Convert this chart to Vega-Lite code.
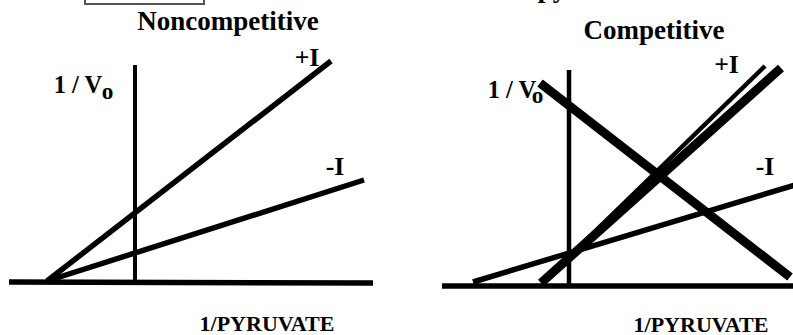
{
  "$schema": "https://vega.github.io/schema/vega-lite/v6.json",
  "padding": 0,
  "spacing": 0,
  "background": "white",
  "config": {"view": {"stroke": null}, "concat": {"spacing": 0}},
  "datasets": {
    "leftLines": [
      {"line": "axisX", "x": -1.26, "y": 0.0},
      {"line": "axisX", "x": 2.38, "y": -0.01},
      {"line": "axisY", "x": 0, "y": 2.17},
      {"line": "axisY", "x": 0, "y": -0.01},
      {"line": "plusI", "x": -0.88, "y": 0.01},
      {"line": "plusI", "x": 1.96, "y": 2.21},
      {"line": "minusI", "x": -0.88, "y": 0.01},
      {"line": "minusI", "x": 2.29, "y": 1.02}
    ],
    "leftText": [
      {"label": "Noncompetitive", "kind": "title", "x": 0.93, "y": 2.52},
      {"label": "+I", "kind": "series", "x": 1.72, "y": 2.16},
      {"label": "-I", "kind": "series", "x": 2.0, "y": 1.07},
      {"label": "1 / V", "kind": "axis", "x": -0.57, "y": 1.89},
      {"label": "o", "kind": "sub", "x": -0.275, "y": 1.83},
      {"label": "1/PYRUVATE", "kind": "xlab", "x": 1.32, "y": -0.49}
    ],
    "leftBox": [
      {"x": -0.5, "x2": 0.69, "y": 2.78, "y2": 2.95}
    ],
    "rightLines": [
      {"line": "axisX", "x": -1.27, "y": 0.0},
      {"line": "axisX", "x": 2.26, "y": 0.0},
      {"line": "axisY", "x": 0, "y": 2.16},
      {"line": "axisY", "x": 0, "y": -0.02},
      {"line": "cross", "x": -0.29, "y": 2.03},
      {"line": "cross", "x": 2.21, "y": 0.09},
      {"line": "plusIthick", "x": -0.28, "y": 0.03},
      {"line": "plusIthick", "x": 2.12, "y": 2.18},
      {"line": "plusIthin", "x": -0.26, "y": 0.04},
      {"line": "plusIthin", "x": 1.96, "y": 2.2},
      {"line": "minusI", "x": -0.96, "y": 0.04},
      {"line": "minusI", "x": 2.26, "y": 1.01}
    ],
    "rightText": [
      {"label": "py", "kind": "title", "x": -0.17, "y": 2.89},
      {"label": "Competitive", "kind": "title", "x": 0.85, "y": 2.47},
      {"label": "+I", "kind": "series", "x": 1.575, "y": 2.13},
      {"label": "-I", "kind": "series", "x": 1.96, "y": 1.11},
      {"label": "1 / V", "kind": "axis", "x": -0.57, "y": 1.88},
      {"label": "o", "kind": "sub", "x": -0.315, "y": 1.83},
      {"label": "1/PYRUVATE", "kind": "xlab", "x": 1.32, "y": -0.455}
    ]
  },
  "hconcat": [
    {
      "width": 396,
      "height": 335,
      "encoding": {
        "x": {"field": "x", "type": "quantitative", "scale": {"domain": [-1.35, 2.61], "nice": false, "zero": false}, "axis": null},
        "y": {"field": "y", "type": "quantitative", "scale": {"domain": [-0.53, 2.82], "nice": false, "zero": false}, "axis": null}
      },
      "layer": [
        {
          "data": {"name": "leftBox"},
          "mark": {"type": "rect", "filled": false, "color": "#555555", "strokeWidth": 2, "clip": true},
          "encoding": {"x2": {"field": "x2"}, "y2": {"field": "y2"}}
        },
        {
          "data": {"name": "leftLines"},
          "transform": [{"filter": {"field": "line", "oneOf": ["axisY"]}}],
          "mark": {"type": "line", "color": "black", "strokeCap": "butt", "strokeWidth": 4, "clip": true},
          "encoding": {"detail": {"field": "line", "type": "nominal"}}
        },
        {
          "data": {"name": "leftLines"},
          "transform": [{"filter": {"field": "line", "oneOf": ["axisX", "plusI", "minusI"]}}],
          "mark": {"type": "line", "color": "black", "strokeCap": "butt", "strokeWidth": 5.5, "clip": true},
          "encoding": {"detail": {"field": "line", "type": "nominal"}}
        },
        {
          "data": {"name": "leftText"},
          "mark": {"type": "text", "font": "Liberation Serif", "fontWeight": "bold", "align": "center", "baseline": "alphabetic", "color": "black", "clip": true},
          "encoding": {
            "text": {"field": "label"},
            "size": {"field": "kind", "type": "ordinal", "scale": {"domain": ["title", "series", "axis", "sub", "xlab"], "range": [27, 22, 26, 22, 20]}, "legend": null}
          }
        }
      ]
    },
    {
      "width": 397,
      "height": 335,
      "encoding": {
        "x": {"field": "x", "type": "quantitative", "scale": {"domain": [-1.73, 2.24], "nice": false, "zero": false}, "axis": null},
        "y": {"field": "y", "type": "quantitative", "scale": {"domain": [-0.49, 2.86], "nice": false, "zero": false}, "axis": null}
      },
      "layer": [
        {
          "data": {"name": "rightLines"},
          "transform": [{"filter": {"field": "line", "oneOf": ["axisY", "plusIthin"]}}],
          "mark": {"type": "line", "color": "black", "strokeCap": "butt", "strokeWidth": 4.5, "clip": true},
          "encoding": {"detail": {"field": "line", "type": "nominal"}}
        },
        {
          "data": {"name": "rightLines"},
          "transform": [{"filter": {"field": "line", "oneOf": ["axisX", "minusI"]}}],
          "mark": {"type": "line", "color": "black", "strokeCap": "butt", "strokeWidth": 5.5, "clip": true},
          "encoding": {"detail": {"field": "line", "type": "nominal"}}
        },
        {
          "data": {"name": "rightLines"},
          "transform": [{"filter": {"field": "line", "oneOf": ["cross", "plusIthick"]}}],
          "mark": {"type": "line", "color": "black", "strokeCap": "butt", "strokeWidth": 9, "clip": true},
          "encoding": {"detail": {"field": "line", "type": "nominal"}}
        },
        {
          "data": {"name": "rightText"},
          "mark": {"type": "text", "font": "Liberation Serif", "fontWeight": "bold", "align": "center", "baseline": "alphabetic", "color": "black", "clip": true},
          "encoding": {
            "text": {"field": "label"},
            "size": {"field": "kind", "type": "ordinal", "scale": {"domain": ["title", "series", "axis", "sub", "xlab"], "range": [27, 22, 26, 22, 20]}, "legend": null}
          }
        }
      ]
    }
  ]
}
